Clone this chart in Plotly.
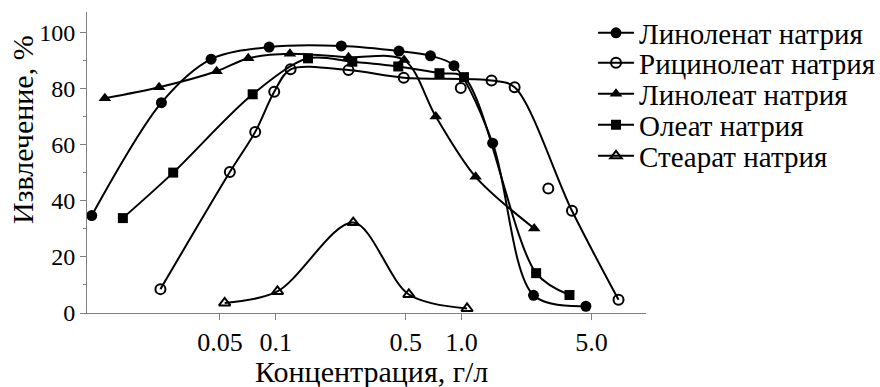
import plotly.graph_objects as go

# ---- data ----
linolenate_x = [0.0102, 0.0242, 0.0448, 0.092, 0.225, 0.46, 0.68, 0.91, 1.47, 2.44, 4.67]
linolenate_y = [34.7, 74.9, 90.4, 94.7, 95.1, 93.3, 91.6, 88.1, 60.5, 6.3, 2.4]

ricinoleate_x = [0.0239, 0.0565, 0.0774, 0.098, 0.12, 0.246, 0.488, 0.99, 1.45, 1.93, 2.93, 3.93, 7.0]
ricinoleate_y = [8.5, 50.2, 64.5, 78.8, 86.8, 86.5, 83.8, 80.1, 82.8, 80.4, 44.3, 36.4, 4.7]
ricinoleate_offcurve = [7, 10]

linoleate_x = [0.012, 0.0235, 0.048, 0.071, 0.119, 0.246, 0.49, 0.726, 1.19, 2.46]
linoleate_y = [76.5, 80.4, 86.1, 90.7, 92.3, 91.1, 90.1, 70.0, 48.5, 30.1]

oleate_x = [0.015, 0.028, 0.075, 0.149, 0.258, 0.456, 0.76, 1.03, 2.52, 3.81]
oleate_y = [33.8, 50.0, 77.9, 90.7, 89.5, 87.8, 85.4, 84.0, 14.2, 6.4]

stearate_x = [0.053, 0.102, 0.261, 0.52, 1.07]
stearate_y = [3.6, 7.7, 32.2, 6.6, 1.6]

series_names = ["Линоленат натрия", "Рицинолеат натрия", "Линолеат натрия",
                "Олеат натрия", "Стеарат натрия"]

x_tickvals = [0.05, 0.1, 0.5, 1.0, 5.0]
x_ticktext = ["0.05", "0.1", "0.5", "1.0", "5.0"]
y_tickvals = [0, 20, 40, 60, 80, 100]

x_title = "Концентрация, г/л"
y_title = "Извлечение, %"

# ---- styling ----
FONT = "Times New Roman, Liberation Serif, serif"
BLACK = "#000000"
AXIS = "#808080"

series = [
    (linolenate_x, linolenate_y, [], dict(symbol="circle", size=11, color=BLACK)),
    (ricinoleate_x, ricinoleate_y, ricinoleate_offcurve,
     dict(symbol="circle-open", size=10, color=BLACK, line=dict(width=2, color=BLACK))),
    (linoleate_x, linoleate_y, [], dict(symbol="triangle-up", size=11, color=BLACK)),
    (oleate_x, oleate_y, [], dict(symbol="square", size=10, color=BLACK)),
    (stearate_x, stearate_y, [],
     dict(symbol="triangle-up-open", size=10, color=BLACK, line=dict(width=2, color=BLACK))),
]

W, H = 880, 387
L, R, T, B = 87, 234, 12, 74
pw, ph = W - L - R, H - T - B

def px_x(p):
    return (p - L) / pw

def px_y(p):
    return (H - B - p) / ph

LEG_FONT = 29
legend_rows_px = [33, 63, 94, 125, 156]

fig = go.Figure()
legend_layouts = {}
for k, (name, (xs, ys, off, mk)) in enumerate(zip(series_names, series)):
    leg_id = "legend" if k == 0 else f"legend{k + 1}"
    on_x = [x for i, x in enumerate(xs) if i not in off]
    on_y = [y for i, y in enumerate(ys) if i not in off]
    fig.add_trace(go.Scatter(
        x=on_x, y=on_y, name=name, mode="lines+markers",
        line=dict(color=BLACK, width=2, shape="spline", smoothing=0.9),
        marker=mk, legendgroup=name, legend=leg_id,
    ))
    if off:
        fig.add_trace(go.Scatter(
            x=[xs[i] for i in off], y=[ys[i] for i in off], mode="markers",
            marker=mk, showlegend=False, legendgroup=name, legend=leg_id,
            hoverinfo="skip",
        ))
    legend_layouts[leg_id] = dict(
        x=px_x(593), y=px_y(legend_rows_px[k]), xanchor="left", yanchor="middle",
        font=dict(family=FONT, size=LEG_FONT, color=BLACK),
        bgcolor="rgba(0,0,0,0)", borderwidth=0, itemwidth=36,
    )

fig.update_layout(
    width=W, height=H,
    margin=dict(l=L, r=R, t=T, b=B, autoexpand=False),
    paper_bgcolor="white", plot_bgcolor="white",
    font=dict(family=FONT, color=BLACK, size=22),
    showlegend=True,
    xaxis=dict(type="log", range=[-2.017, 0.993], tickvals=x_tickvals, ticktext=x_ticktext,
               ticks="outside", ticklen=6, tickcolor=AXIS, tickwidth=1,
               showline=True, linecolor=AXIS, linewidth=1, showgrid=False, zeroline=False,
               tickfont=dict(family=FONT, size=26, color=BLACK)),
    yaxis=dict(range=[0, 107.2], tickvals=y_tickvals,
               ticks="outside", ticklen=6, tickcolor=AXIS, tickwidth=1,
               minor=dict(dtick=10, ticks="outside", ticklen=3, tickcolor=AXIS),
               showline=True, linecolor=AXIS, linewidth=1, showgrid=False, zeroline=False,
               tickfont=dict(family=FONT, size=24, color=BLACK)),
    annotations=[
        dict(text=x_title, xref="paper", yref="paper", x=px_x(371), y=px_y(371),
             xanchor="center", yanchor="middle", showarrow=False,
             font=dict(family=FONT, size=30, color=BLACK)),
        dict(text=y_title, xref="paper", yref="paper", x=px_x(22), y=px_y(130),
             xanchor="center", yanchor="middle", showarrow=False, textangle=-90,
             font=dict(family=FONT, size=30, color=BLACK)),
    ],
)
fig.update_layout(**legend_layouts)

fig.write_html("out.html", config={"displayModeBar": False},
               post_script="document.body.style.margin='0';document.body.style.padding='0';")
